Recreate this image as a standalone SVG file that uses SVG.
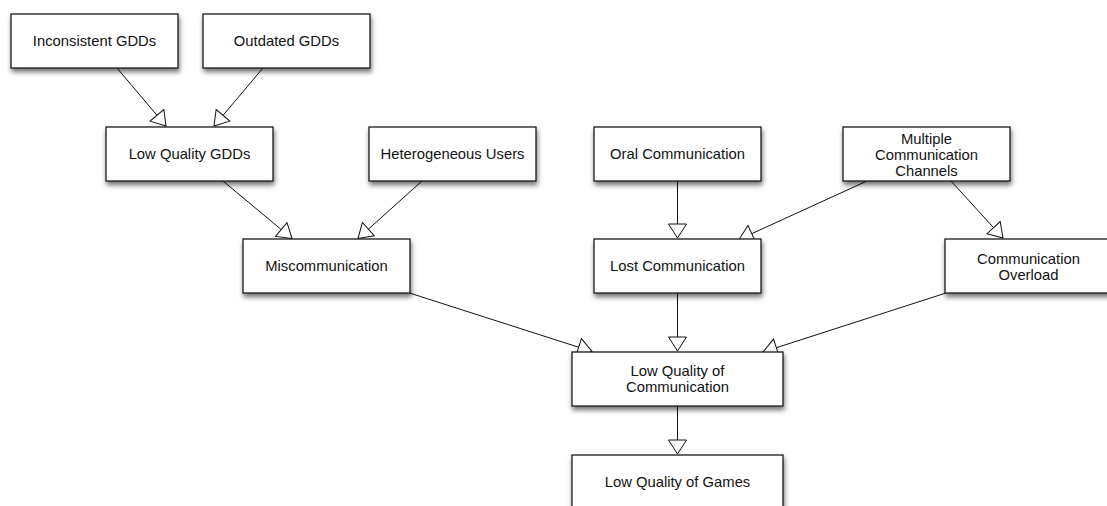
<svg xmlns="http://www.w3.org/2000/svg" width="1107" height="506" viewBox="0 0 1107 506">
  <defs>
    <filter id="shadow" x="-10%" y="-20%" width="125%" height="160%">
      <feDropShadow dx="1" dy="3.5" stdDeviation="2.5" flood-color="#000" flood-opacity="0.55"/>
    </filter>
    <marker id="hollow" markerUnits="userSpaceOnUse" viewBox="-1 -1 16 20" markerWidth="16" markerHeight="20" refX="14" refY="9" orient="auto">
      <path d="M0,0 L14,9 L0,18 Z" fill="#fff" stroke="#111" stroke-width="1"/>
    </marker>
  </defs>
  <style>
    .box { fill: #fff; stroke: #1a1a1a; stroke-width: 1.3; filter: url(#shadow); }
    .lbl { font-family: "Liberation Sans", Arial, Helvetica, sans-serif; font-size: 14.8px; fill: #111; text-anchor: middle; }
    .edge { fill: none; stroke: #111; stroke-width: 1; marker-end: url(#hollow); }
  </style>
  <rect width="1107" height="506" fill="#fff"/>

  <g id="connectors">
    <line class="edge" x1="117" y1="68" x2="166" y2="126"/>
    <line class="edge" x1="263" y1="68" x2="214" y2="126"/>
    <line class="edge" x1="223" y1="181" x2="292" y2="238.5"/>
    <line class="edge" x1="422" y1="181" x2="358" y2="238.5"/>
    <line class="edge" x1="677.5" y1="181" x2="677.5" y2="238"/>
    <line class="edge" x1="867" y1="181" x2="739" y2="239.5"/>
    <line class="edge" x1="951" y1="181" x2="1003" y2="238"/>
    <line class="edge" x1="409.5" y1="293" x2="592" y2="351.5"/>
    <line class="edge" x1="677.5" y1="293" x2="677.5" y2="351"/>
    <line class="edge" x1="946" y1="293" x2="763" y2="352"/>
    <line class="edge" x1="677.5" y1="406" x2="677.5" y2="454"/>
  </g>

  <g id="inconsistent-gdds">
    <rect class="box" x="11" y="14" width="167" height="54"/>
    <text class="lbl" x="94.5" y="46">Inconsistent GDDs</text>
  </g>
  <g id="outdated-gdds">
    <rect class="box" x="203" y="14" width="167" height="54"/>
    <text class="lbl" x="286.5" y="46">Outdated GDDs</text>
  </g>
  <g id="low-quality-gdds">
    <rect class="box" x="106" y="127" width="167" height="54"/>
    <text class="lbl" x="189.5" y="159">Low Quality GDDs</text>
  </g>
  <g id="heterogeneous-users">
    <rect class="box" x="369" y="127" width="167" height="54"/>
    <text class="lbl" x="452.5" y="159">Heterogeneous Users</text>
  </g>
  <g id="oral-communication">
    <rect class="box" x="594" y="127" width="167" height="54"/>
    <text class="lbl" x="677.5" y="159">Oral Communication</text>
  </g>
  <g id="multiple-channels">
    <rect class="box" x="843" y="127" width="167" height="54"/>
    <text class="lbl" x="926.5" y="143.5">Multiple</text>
    <text class="lbl" x="926.5" y="159.5">Communication</text>
    <text class="lbl" x="926.5" y="175.5">Channels</text>
  </g>
  <g id="miscommunication">
    <rect class="box" x="243" y="239" width="167" height="54"/>
    <text class="lbl" x="326.5" y="271">Miscommunication</text>
  </g>
  <g id="lost-communication">
    <rect class="box" x="594" y="239" width="167" height="54"/>
    <text class="lbl" x="677.5" y="271">Lost Communication</text>
  </g>
  <g id="communication-overload">
    <rect class="box" x="945" y="239" width="167" height="54"/>
    <text class="lbl" x="1028.5" y="263.5">Communication</text>
    <text class="lbl" x="1028.5" y="279.5">Overload</text>
  </g>
  <g id="low-quality-communication">
    <rect class="box" x="572" y="352" width="211" height="54"/>
    <text class="lbl" x="677.5" y="376">Low Quality of</text>
    <text class="lbl" x="677.5" y="392">Communication</text>
  </g>
  <g id="low-quality-games">
    <rect class="box" x="572" y="455" width="211" height="54"/>
    <text class="lbl" x="677.5" y="487">Low Quality of Games</text>
  </g>
</svg>
